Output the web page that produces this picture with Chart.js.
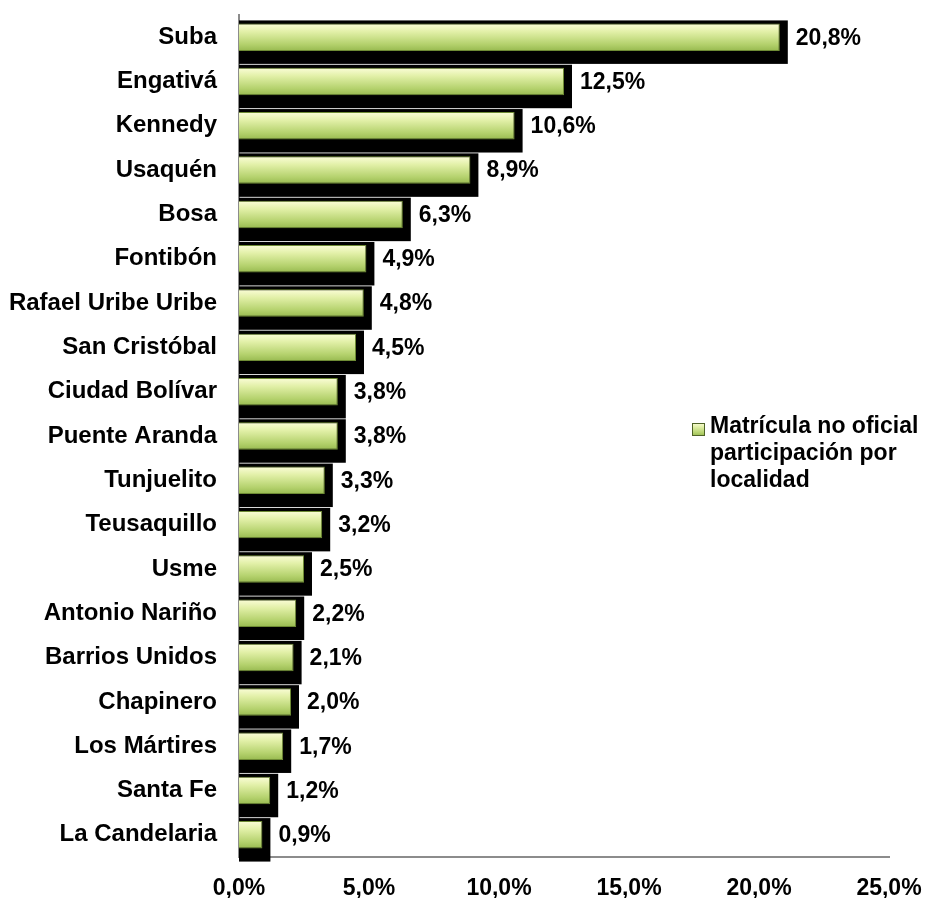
<!DOCTYPE html>
<html>
<head>
<meta charset="utf-8">
<script src="https://cdn.jsdelivr.net/npm/chart.js@4"></script>
<style>
  html, body { margin: 0; padding: 0; background: #fff; }
  canvas { display: block; }
</style>
</head>
<body>
<canvas id="chart" width="927" height="898"></canvas>
<script>
const localidades = [
    "Suba", "Engativá", "Kennedy", "Usaquén", "Bosa", "Fontibón",
    "Rafael Uribe Uribe", "San Cristóbal", "Ciudad Bolívar", "Puente Aranda",
    "Tunjuelito", "Teusaquillo", "Usme", "Antonio Nariño", "Barrios Unidos",
    "Chapinero", "Los Mártires", "Santa Fe", "La Candelaria"
];
const participacion = [
    20.8, 12.5, 10.6, 8.9, 6.3, 4.9, 4.8, 4.5, 3.8, 3.8,
    3.3, 3.2, 2.5, 2.2, 2.1, 2.0, 1.7, 1.2, 0.9
];
const xTicks = [0, 5, 10, 15, 20, 25];
const serieLabel = ["Matrícula no oficial", "participación por", "localidad"];

const FONT = '"Liberation Sans", Arial, sans-serif';
const pct = (v) => v.toFixed(1).replace(".", ",") + "%";

function greenGradient(ctx, top, bottom) {
    const g = ctx.createLinearGradient(0, top, 0, bottom);
    g.addColorStop(0, "#fbfdd8");
    g.addColorStop(0.3, "#e2f0a8");
    g.addColorStop(0.75, "#b5d26e");
    g.addColorStop(1, "#98ba50");
    return g;
}

// black block behind every bar + gradient fill
const barShadow = {
    id: "barShadow",
    beforeDatasetsDraw(chart) {
        const ctx = chart.ctx;
        const meta = chart.getDatasetMeta(0);
        ctx.save();
        ctx.fillStyle = "#000";
        meta.data.forEach((bar) => {
            const top = bar.y - bar.height / 2;
            ctx.fillRect(bar.base, top - 3, bar.x + 8 - bar.base, bar.height + 16);
            bar.options.backgroundColor = greenGradient(ctx, top, top + bar.height);
        });
        ctx.restore();
    },
    afterDatasetsDraw(chart) {
        const ctx = chart.ctx;
        const meta = chart.getDatasetMeta(0);
        ctx.save();
        ctx.font = "bold 23px " + FONT;
        ctx.fillStyle = "#000";
        ctx.textAlign = "left";
        ctx.textBaseline = "middle";
        meta.data.forEach((bar, i) => {
            ctx.fillText(pct(participacion[i]), bar.x + 16, bar.y + 1);
        });
        ctx.restore();
    },
    afterDraw(chart) {
        const ctx = chart.ctx;
        ctx.save();
        const bx = 692, by = 423, bs = 13;
        ctx.fillStyle = greenGradient(ctx, by, by + bs);
        ctx.fillRect(bx, by, bs, bs);
        ctx.strokeStyle = "#4f6327";
        ctx.lineWidth = 1;
        ctx.strokeRect(bx + 0.5, by + 0.5, bs - 1, bs - 1);
        ctx.font = "bold 23px " + FONT;
        ctx.fillStyle = "#000";
        ctx.textAlign = "left";
        ctx.textBaseline = "middle";
        serieLabel.forEach((line, i) => ctx.fillText(line, 710, 427 + i * 27));
        ctx.restore();
    }
};

new Chart(document.getElementById("chart"), {
    type: "bar",
    data: {
        labels: localidades,
        datasets: [{
            label: serieLabel.join(" "),
            data: participacion,
            // scriptable so each bar gets its own options object
            backgroundColor: () => "#c8e08a",
            borderColor: "#6e8b34",
            borderWidth: 1,
            barPercentage: 0.62,
            categoryPercentage: 1
        }]
    },
    options: {
        indexAxis: "y",
        responsive: false,
        animation: false,
        layout: { padding: { top: 15, right: 38, bottom: 0, left: 0 } },
        plugins: {
            legend: { display: false },
            tooltip: { enabled: false }
        },
        scales: {
            x: {
                min: 0,
                max: 25,
                afterBuildTicks: (s) => { s.ticks = xTicks.map((v) => ({ value: v })); },
                afterFit: (s) => {
                    s.height = 41;
                    s.paddingLeft = 0;
                    s.paddingRight = 0;
                },
                grid: { display: false, drawTicks: false },
                border: { display: true, color: "#8c8c8c", width: 2 },
                ticks: {
                    padding: 18,
                    color: "#000",
                    font: { family: FONT, size: 23, weight: "bold" },
                    callback: (v) => pct(v),
                    maxRotation: 0
                }
            },
            y: {
                afterFit: (s) => {
                    s.width = 239;
                    s.paddingTop = 0;
                    s.paddingBottom = 0;
                },
                grid: { display: false, drawTicks: false },
                border: { display: true, color: "#8c8c8c", width: 2 },
                ticks: {
                    padding: 22,
                    color: "#000",
                    font: { family: FONT, size: 24, weight: "bold" }
                }
            }
        }
    },
    plugins: [barShadow]
});
</script>
</body>
</html>
